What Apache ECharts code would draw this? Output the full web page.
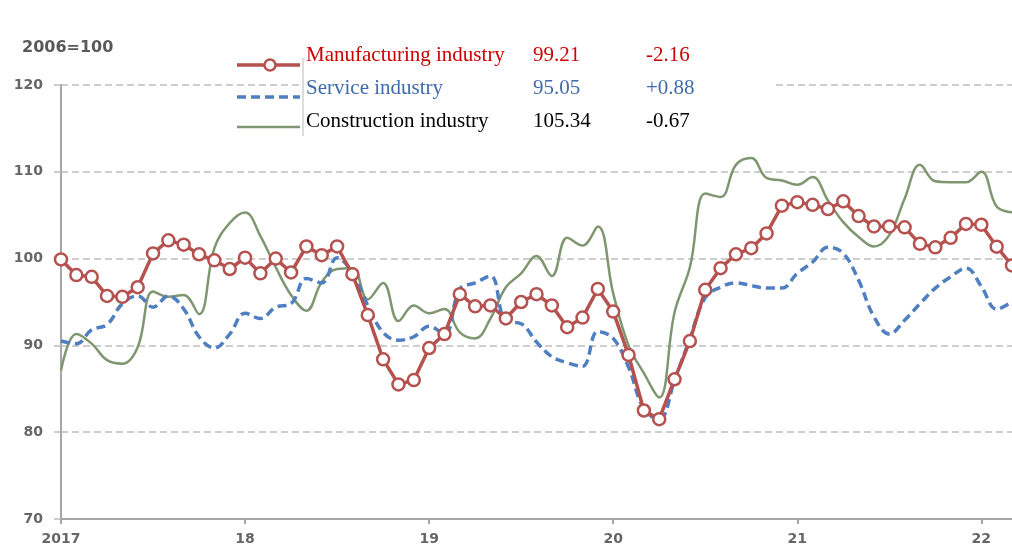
<!DOCTYPE html>
<html>
<head>
<meta charset="utf-8">
<script src="https://cdn.jsdelivr.net/npm/echarts@6/dist/echarts.min.js"></script>
<style>
html,body{margin:0;padding:0;background:#fff;}
#chart{width:1012px;height:546px;}
</style>
</head>
<body>
<div id="chart"></div>
<script>
// ---- data (monthly, Jan 2017 - Mar 2022) ----
const startYear = 2017;
const monthCount = 63;
const yearLabels = ['2017', '18', '19', '20', '21', '22'];
const yTicks = [70, 80, 90, 100, 110, 120];

const manufacturing = [
  99.9, 98.1, 97.9, 95.7, 95.6, 96.7, 100.6, 102.1, 101.6, 100.5, 99.8, 98.8,
  100.1, 98.3, 100.0, 98.4, 101.4, 100.4, 101.4, 98.2, 93.5, 88.4, 85.5, 86.0,
  89.7, 91.3, 95.9, 94.5, 94.6, 93.1, 95.0, 95.9, 94.6, 92.1, 93.2, 96.5,
  93.9, 88.9, 82.5, 81.5, 86.1, 90.5, 96.4, 98.9, 100.5, 101.2, 102.9, 106.1,
  106.5, 106.2, 105.7, 106.6, 104.9, 103.7, 103.7, 103.6, 101.7, 101.3, 102.4, 104.0,
  103.9, 101.37, 99.21
];
const service = [
  90.5, 90.2, 91.8, 92.4, 94.8, 95.7, 94.4, 95.7, 94.2, 91.0, 89.7, 91.3,
  93.7, 93.1, 94.4, 94.8, 97.7, 97.2, 100.1, 98.3, 94.6, 91.5, 90.6, 91.0,
  92.2, 91.3, 96.5, 97.2, 98.0, 92.8, 92.5, 90.4, 88.7, 88.0, 87.6, 91.6,
  90.8, 87.5, 82.7, 81.5, 86.0, 90.8, 95.5, 96.7, 97.2, 96.9, 96.6, 96.6,
  98.3, 99.6, 101.3, 100.6, 97.5, 93.3, 91.3, 92.9, 94.8, 96.6, 97.9, 98.9,
  96.8, 94.17, 95.05
];
const construction = [
  87.1, 91.3, 90.2, 88.3, 87.9, 89.8, 96.2, 95.6, 95.8, 93.6, 101.2, 104.1,
  105.3, 102.6, 99.0, 95.8, 94.0, 97.3, 98.8, 98.9, 95.3, 97.2, 92.8, 94.6,
  93.7, 94.2, 91.5, 90.8, 93.1, 96.7, 98.3, 100.3, 98.0, 102.4, 101.5, 103.7,
  96.0, 90.0, 86.8, 84.0, 93.8, 99.0, 107.5, 107.1, 110.8, 111.6, 109.3, 109.0,
  108.5, 109.4, 106.7, 104.2, 102.5, 101.4, 102.7, 106.9, 110.8, 108.9, 108.8, 108.8,
  110.0, 106.01, 105.34
];

const legendNames = ['Manufacturing industry', 'Service industry', 'Construction industry'];
const legendValues = ['99.21', '95.05', '105.34'];
const legendChanges = ['-2.16', '+0.88', '-0.67'];
const unitLabel = '2006=100';

// ---- categories ----
const categories = [];
for (let i = 0; i < monthCount; i++) {
  const y = startYear + Math.floor(i / 12);
  const m = (i % 12) + 1;
  categories.push(y + '-' + (m < 10 ? '0' + m : m));
}

const C_MAN = '#b5514f';
const C_SER = '#4f7fc0';
const C_CON = '#7f9670';
const legendTextColors = ['#cc0000', '#3f6aab', '#000000'];

const chart = echarts.init(document.getElementById('chart'));

const rowsY = [55, 88, 121];
const serif = "'Liberation Serif','Times New Roman',serif";
const graphics = [
  { type: 'rect', z: 1, shape: { x: 303, y: 40, width: 470, height: 100 }, style: { fill: '#ffffff' } },
  { type: 'line', z: 3, shape: { x1: 303, y1: 58, x2: 303, y2: 136 }, style: { stroke: '#d0d0d0', lineWidth: 1.5 } },
  { type: 'text', z: 3, left: 22, top: 40, style: { text: unitLabel, fill: '#595959', font: "bold 16px 'DejaVu Sans', sans-serif" } },
  // legend icons
  { type: 'line', z: 3, shape: { x1: 237, y1: 65, x2: 300, y2: 65 }, style: { stroke: C_MAN, lineWidth: 3.5 } },
  { type: 'circle', z: 4, shape: { cx: 270, cy: 65, r: 5.5 }, style: { fill: '#fff', stroke: C_MAN, lineWidth: 2.5 } },
  { type: 'line', z: 3, shape: { x1: 237, y1: 97, x2: 300, y2: 97 }, style: { stroke: C_SER, lineWidth: 3.5, lineDash: [9, 5] } },
  { type: 'line', z: 3, shape: { x1: 237, y1: 127, x2: 300, y2: 127 }, style: { stroke: C_CON, lineWidth: 2.5 } }
];
for (let i = 0; i < 3; i++) {
  const st = { fill: legendTextColors[i], font: '21px ' + serif, textVerticalAlign: 'middle' };
  graphics.push({ type: 'text', z: 3, x: 306, y: rowsY[i], style: Object.assign({ text: legendNames[i] }, st) });
  graphics.push({ type: 'text', z: 3, x: 533, y: rowsY[i], style: Object.assign({ text: legendValues[i] }, st) });
  graphics.push({ type: 'text', z: 3, x: 646, y: rowsY[i], style: Object.assign({ text: legendChanges[i] }, st) });
}

const labelStyle = { color: '#666666', fontFamily: "'DejaVu Sans', sans-serif", fontWeight: 'bold', fontSize: 14 };

chart.setOption({
  animation: false,
  backgroundColor: '#ffffff',
  grid: { left: 61, right: -4, top: 85, bottom: 27, containLabel: false },
  xAxis: {
    type: 'category',
    data: categories,
    boundaryGap: false,
    axisLine: { lineStyle: { color: '#a6a6a6', width: 2 } },
    axisTick: { show: true, length: 5, interval: (i) => i % 12 === 0, lineStyle: { color: '#a6a6a6', width: 2 } },
    axisLabel: Object.assign({
      margin: 13,
      interval: (i) => i % 12 === 0,
      formatter: (v, i) => yearLabels[Math.floor(i / 12)] || ''
    }, labelStyle),
    splitLine: { show: false }
  },
  yAxis: {
    type: 'value',
    min: yTicks[0],
    max: yTicks[yTicks.length - 1],
    interval: 10,
    axisLine: { show: true, lineStyle: { color: '#a6a6a6', width: 2 } },
    axisTick: { show: true, length: 7, lineStyle: { color: '#bdbdbd', width: 1.5 } },
    axisLabel: Object.assign({ margin: 18 }, labelStyle),
    splitLine: { show: true, lineStyle: { color: '#bdbdbd', width: 1.5, type: [7, 4] } }
  },
  graphic: graphics,
  series: [
    {
      name: legendNames[2], type: 'line', data: construction, smooth: 0.4, symbol: 'none', z: 2,
      lineStyle: { color: C_CON, width: 2.5 }
    },
    {
      name: legendNames[1], type: 'line', data: service, smooth: 0.4, symbol: 'none', z: 3,
      lineStyle: { color: C_SER, width: 3.5, type: [9, 5] }
    },
    {
      name: legendNames[0], type: 'line', data: manufacturing, smooth: false, z: 4,
      symbol: 'circle', symbolSize: 12, showAllSymbol: true,
      itemStyle: { color: '#ffffff', borderColor: C_MAN, borderWidth: 2.5 },
      lineStyle: { color: C_MAN, width: 3.5 }
    }
  ]
});
</script>
</body>
</html>
